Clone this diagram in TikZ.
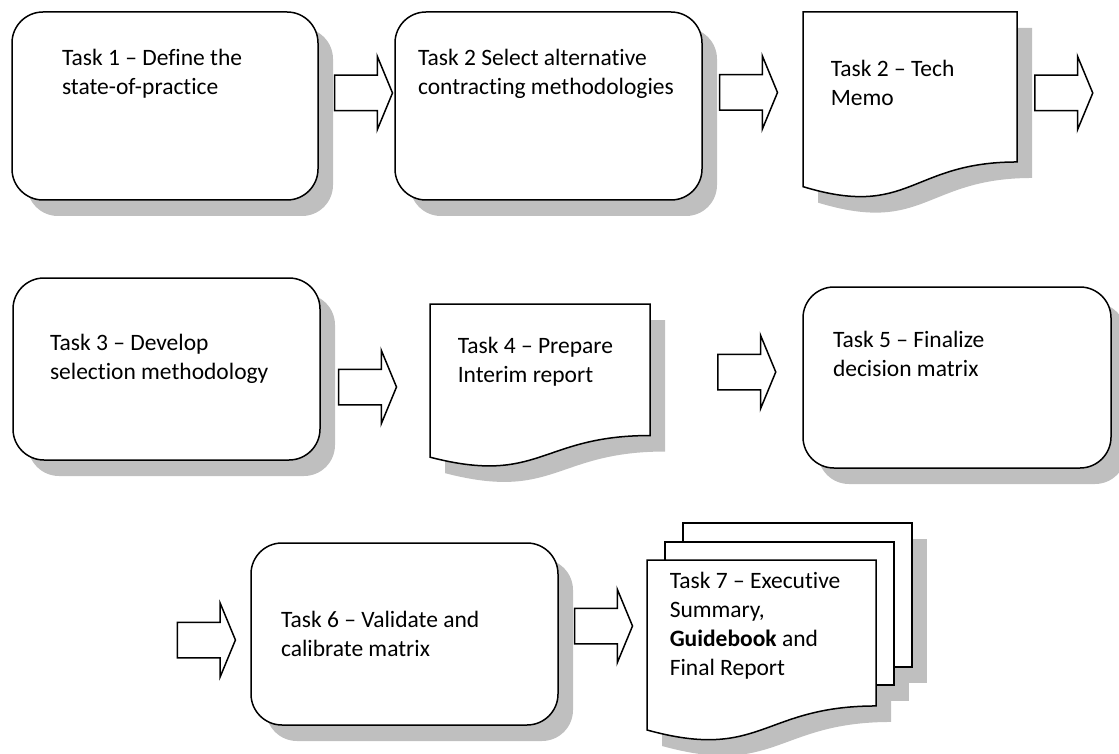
\documentclass[tikz,border=0pt]{standalone}
\usepackage{fontspec}
\setmainfont{Carlito}[Ligatures={TeX,NoCommon}]
\usepackage{tikz}
\usetikzlibrary{shapes.arrows, shadows, positioning, calc}
\colorlet{shadowgray}{black!25}

% outline of a page with a wavy bottom edge
\newcommand\docpath[1]{(#1.north west) -- (#1.north east) -- ($(#1.north east)!0.802!(#1.south east)$) .. controls ($(#1.north)!0.802!(#1.south)$) and ($(#1.north)!1.1075!(#1.south)$) .. ($(#1.north west)!0.934!(#1.south west)$) -- cycle}

\begin{document}
\begin{tikzpicture}[x=1pt, y=-1pt, line width=1.5pt,
  taskbox/.style={draw, fill=white, rounded corners=31pt, drop shadow={shadow xshift=15pt, shadow yshift=-16pt, fill=shadowgray, opacity=1}},
  docframe/.style={inner sep=0pt, outer sep=0pt},
  blockarrow/.style={single arrow, draw, fill=white, inner xsep=0pt, inner ysep=17pt, minimum height=58pt, single arrow head extend=19pt, single arrow tip angle=135},
  tasktext/.style={anchor=base west, align=left, inner sep=0pt, font=\fontsize{23.5}{29}\selectfont}]
\useasboundingbox (0,0) rectangle (1119,754);

% Rounded task boxes
\node (define) [taskbox, minimum width=306pt, minimum height=188pt] at (165,106) {};
\node (select) [taskbox, minimum width=307pt, minimum height=188pt] at (548.5,106) {};
\node (develop) [taskbox, minimum width=307pt, minimum height=182pt] at (166.5,369) {};
\node (finalize) [taskbox, minimum width=308pt, minimum height=181pt] at (957,377.5) {};
\node (validate) [taskbox, minimum width=307pt, minimum height=182pt] at (404.5,634) {};

% Document frames (outlines drawn below, after their shadows)
\node (memo) [docframe, minimum width=214pt, minimum height=187pt] at (910,105.5) {};
\node (interim) [docframe, minimum width=220pt, minimum height=164pt] at (540,386) {};
\node (final-back) [docframe, minimum width=229pt, minimum height=144pt] at (797.5,595) {};
\node (final-mid) [docframe, minimum width=229pt, minimum height=143pt] at (779.5,613.5) {};
\node (final) [docframe, minimum width=229pt, minimum height=182pt] at (761.5,651) {};

\begin{scope}[transform canvas={shift={(15pt,-16pt)}}]
  \fill[shadowgray] \docpath{memo};
  \fill[shadowgray] \docpath{interim};
  \fill[shadowgray] (final-back.north west) rectangle (final-back.south east);
  \fill[shadowgray] (final-mid.north west) rectangle (final-mid.south east);
  \fill[shadowgray] \docpath{final};
\end{scope}
\draw[fill=white] \docpath{memo};
\draw[fill=white] \docpath{interim};
\draw[fill=white] (final-back.north west) rectangle (final-back.south east);
\draw[fill=white] (final-mid.north west) rectangle (final-mid.south east);
\draw[fill=white] \docpath{final};

% Block arrows
\node (a1) [blockarrow, right=15pt of define, yshift=13pt] {};
\node (a2) [blockarrow, right=16pt of select, yshift=13.5pt] {};
\node (a3) [blockarrow, right=17pt of memo, yshift=12.5pt] {};
\node (a4) [blockarrow, right=17pt of develop, yshift=-18pt] {};
\node (a5) [blockarrow, right=67pt of interim, yshift=14pt] {};
\node (a6) [blockarrow, left=14pt of validate, yshift=-6pt] {};
\node (a7) [blockarrow, right=15pt of validate, yshift=8pt] {};

% Labels (anchored at the baseline of their last line)
\node (define-txt) [tasktext] at ($(define.north west)+(50,83)$) {Task 1 -- Define the\\state-of-practice};
\node (select-txt) [tasktext] at ($(select.north west)+(23,83)$) {Task 2 Select alternative\\contracting methodologies};
\node (memo-txt) [tasktext] at ($(memo.north west)+(27,94)$) {Task 2 -- Tech\\Memo};
\node (develop-txt) [tasktext] at ($(develop.north west)+(37,102)$) {Task 3 -- Develop\\selection methodology};
\node (interim-txt) [tasktext] at ($(interim.north west)+(27,78)$) {Task 4 -- Prepare\\Interim report};
\node (finalize-txt) [tasktext] at ($(finalize.north west)+(30,90)$) {Task 5 -- Finalize\\decision matrix};
\node (validate-txt) [tasktext] at ($(validate.north west)+(30,114)$) {Task 6 -- Validate and\\calibrate matrix};
\node (final-txt) [tasktext] at ($(final.north west)+(22,115)$) {Task 7 -- Executive\\Summary,\\\textbf{Guidebook} and\\Final Report};
\end{tikzpicture}
\end{document}
